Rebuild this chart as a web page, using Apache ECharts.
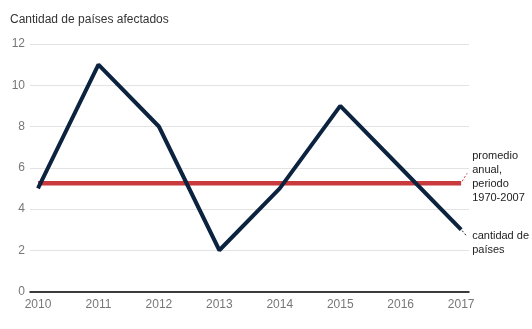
<!DOCTYPE html>
<html><head><meta charset="utf-8">
<script src="https://cdn.jsdelivr.net/npm/echarts@6/dist/echarts.min.js"></script>
<style>html,body{margin:0;padding:0;background:#fff}#c{width:532px;height:329px}</style>
</head><body><div id="c"></div>
<script>
const years = [2010, 2011, 2012, 2013, 2014, 2015, 2016, 2017];
const affected = [5, 11, 8, 2, 5, 9, 6, 3];
const average = 5.25;
const yTicks = [0, 2, 4, 6, 8, 10, 12];
const titleText = 'Cantidad de países afectados';
const avgLabel = 'promedio\nanual,\nperiodo\n1970-2007';
const seriesLabel = 'cantidad de\npaíses';

const chart = echarts.init(document.getElementById('c'), null, {renderer: 'canvas'});
const font = '"Liberation Sans", Arial, sans-serif';
chart.setOption({
  animation: false,
  textStyle: {fontFamily: font},
  title: {text: titleText, left: 5, top: 9, textStyle: {fontSize: 12, fontWeight: 'normal', color: '#333', fontFamily: font}},
  grid: {left: 30, right: 63, top: 44, bottom: 37.5},
  xAxis: {
    type: 'value', min: 2009.868, max: 2017.13,
    axisLine: {show: true, lineStyle: {color: '#000', width: 1.5}},
    axisTick: {show: false},
    splitLine: {show: false},
    axisLabel: {customValues: years, color: '#777', fontSize: 12, margin: 7, formatter: v => String(v)}
  },
  yAxis: {
    type: 'value', min: 0, max: 12, interval: 2,
    axisLine: {show: false}, axisTick: {show: false},
    splitLine: {lineStyle: {color: '#e3e3e3', width: 1}},
    axisLabel: {color: '#777', fontSize: 12, margin: 5}
  },
  series: [
    {
      type: 'line', data: [[years[0], average], [years[years.length - 1], average]],
      symbol: 'none', lineStyle: {color: '#c83a3c', width: 4.5}, z: 2
    },
    {
      type: 'line', data: years.map((y, i) => [y, affected[i]]),
      symbol: 'none', lineStyle: {color: '#0c2340', width: 4}, z: 3
    }
  ]
});

const pAvg = chart.convertToPixel({gridIndex: 0}, [years[years.length - 1], average]);
const pLast = chart.convertToPixel({gridIndex: 0}, [years[years.length - 1], affected[affected.length - 1]]);
chart.setOption({
  graphic: [
    {type: 'line', shape: {x1: pAvg[0] + 1, y1: pAvg[1] - 2, x2: pAvg[0] + 6, y2: pAvg[1] - 10},
     style: {stroke: '#c83a3c', lineWidth: 1, lineDash: [2, 2]}},
    {type: 'text', x: pAvg[0] + 11, y: pAvg[1] - 34, style: {text: avgLabel, font: '11px ' + font, fill: '#222', lineHeight: 14}},
    {type: 'line', shape: {x1: pLast[0] + 1, y1: pLast[1] + 1, x2: pLast[0] + 6, y2: pLast[1] + 7},
     style: {stroke: '#0c2340', lineWidth: 1, lineDash: [2, 2]}},
    {type: 'text', x: pLast[0] + 11, y: pLast[1] - 1, style: {text: seriesLabel, font: '11px ' + font, fill: '#222', lineHeight: 14}}
  ]
});
</script></body></html>
